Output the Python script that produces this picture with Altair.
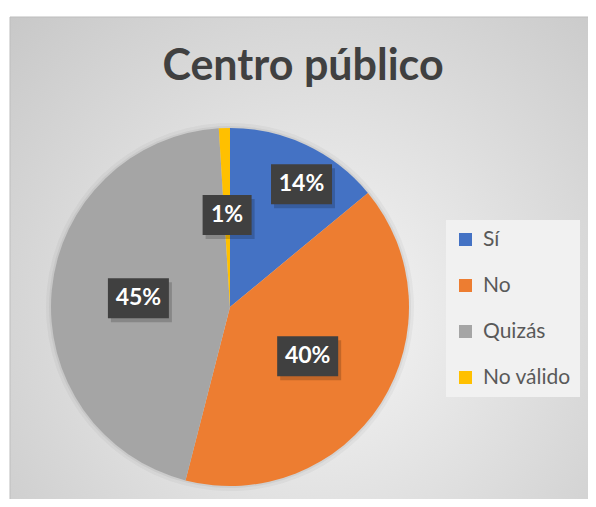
import altair as alt
import pandas as pd

categories = ["Sí", "No", "Quizás", "No válido"]
values = [14, 40, 45, 1]
labels = ["14%", "40%", "45%", "1%"]
colors = ["#4472C4", "#ED7D31", "#A5A5A5", "#FFC000"]
title_text = ["Centro público"]

df = pd.DataFrame({"cat": categories, "value": values, "label": labels,
                   "idx": list(range(len(categories)))})

W, H = 578, 482
CX, CY, R = 220, 290, 179

gradient = {
    "gradient": "radial",
    "x1": 0.52, "y1": 0.58, "r1": 0,
    "x2": 0.52, "y2": 0.58, "r2": 0.75,
    "stops": [
        {"offset": 0, "color": "#f6f6f6"},
        {"offset": 1, "color": "#c6c6c6"},
    ],
}

bg = alt.Chart(pd.DataFrame({"a": [0]})).mark_rect(
    fill=gradient, stroke="#bdbdbd", strokeWidth=1
).encode(x=alt.value(0), x2=alt.value(W + 20), y=alt.value(0), y2=alt.value(H + 20))

base = alt.Chart(df)

shadow1 = base.mark_arc(radius=R + 5, color="#000000", opacity=0.035).encode(
    theta=alt.Theta("value:Q", stack=True), x=alt.value(CX), y=alt.value(CY))
shadow2 = base.mark_arc(radius=R + 2, color="#000000", opacity=0.05).encode(
    theta=alt.Theta("value:Q", stack=True), x=alt.value(CX), y=alt.value(CY))

pie = base.mark_arc(radius=R).encode(
    theta=alt.Theta("value:Q", stack=True),
    color=alt.Color(
        "cat:N",
        scale=alt.Scale(domain=categories, range=colors),
        sort=categories,
        legend=alt.Legend(
            orient="none", legendX=436, legendY=203, title=None,
            symbolType="square", symbolSize=169, symbolStrokeWidth=0,
            labelFont="Lato", labelFontSize=21, labelColor="#595959",
            rowPadding=24, padding=9, fillColor="#f1f1f1", labelOffset=7,
            direction="vertical",
        ),
    ),
    order=alt.Order("idx:Q"),
    x=alt.value(CX), y=alt.value(CY),
)

# label placement (approximation of Excel "best fit")
lab = base.transform_joinaggregate(total="sum(value)").transform_window(
    cum="sum(value)", sort=[alt.SortField("idx")], frame=[None, 0]
).transform_calculate(
    frac="datum.value / datum.total",
).transform_calculate(
    outer="datum.frac > 0.1 && datum.frac < 0.2",
).transform_calculate(
    mid="(datum.cum - datum.value * (datum.outer ? 0.4 : 0.5)) / datum.total * 2 * PI",
    lr="datum.outer ? 142 : 92",
).transform_calculate(
    lx=f"{CX} + datum.lr * sin(datum.mid)",
    ly=f"{CY} - datum.lr * cos(datum.mid)",
    bw="length(datum.label) * 12 + 25",
).transform_calculate(
    bx1="datum.lx - datum.bw / 2", bx2="datum.lx + datum.bw / 2",
    by1="datum.ly - 20", by2="datum.ly + 20",
    sx1="datum.lx - datum.bw / 2 + 3", sx2="datum.lx + datum.bw / 2 + 3",
    sy1="datum.ly - 20 + 4", sy2="datum.ly + 20 + 4",
)

box_shadow = lab.mark_rect(color="#000000", opacity=0.18).encode(
    x=alt.X("sx1:Q", scale=None, axis=None), x2="sx2:Q",
    y=alt.Y("sy1:Q", scale=None, axis=None), y2="sy2:Q")
box = lab.mark_rect(color="#404040").encode(
    x=alt.X("bx1:Q", scale=None, axis=None), x2="bx2:Q",
    y=alt.Y("by1:Q", scale=None, axis=None), y2="by2:Q")
text = lab.mark_text(font="Lato", fontWeight="bold", fontSize=23, color="white",
                     align="center", baseline="middle").encode(
    x=alt.X("lx:Q", scale=None, axis=None),
    y=alt.Y("ly:Q", scale=None, axis=None),
    text="label:N")

title = alt.Chart(pd.DataFrame({"t": title_text})).mark_text(
    font="Lato", fontWeight="bold", fontSize=43, color="#404040",
    align="center", baseline="alphabetic"
).encode(x=alt.value(293), y=alt.value(63), text="t:N")

chart = alt.layer(bg, shadow1, shadow2, pie, box_shadow, box, text, title).properties(
    width=W, height=H,
    autosize=alt.AutoSizeParams(type="none"),
    padding={"left": 2, "top": 9, "right": 0, "bottom": 0},
    background="white",
).configure_view(stroke="transparent", clip=False)

chart.save("out.html", embed_options={"renderer": "svg", "actions": False})
